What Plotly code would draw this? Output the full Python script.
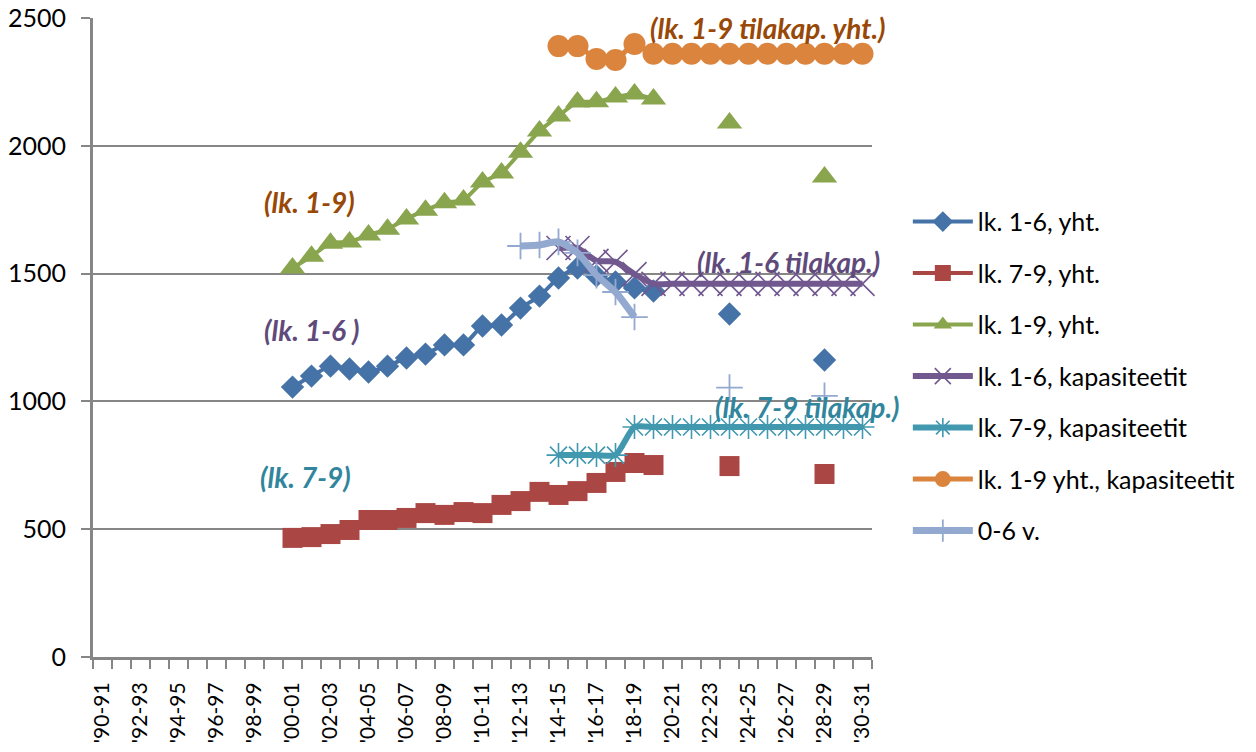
import plotly.graph_objects as go

# School years '90-91 ... '30-31
seasons = ["'%02d-%02d" % (y % 100, (y + 1) % 100) for y in range(1990, 2031)]

N = None
# Pupil counts, grades 1-6 (2000-01 ... 2019-20, forecasts 2023-24 and 2028-29)
lk16 = [N] * 10 + [1056, 1099, 1138, 1127, 1115, 1138, 1170, 1185, 1221, 1221,
                   1295, 1299, 1365, 1412, 1483, 1522, 1491, 1467, 1444, 1432] \
       + [N, N, N, 1342, N, N, N, N, 1162, N, N]
# Pupil counts, grades 7-9
lk79 = [N] * 10 + [466, 469, 481, 497, 536, 536, 544, 563, 556, 567,
                   563, 595, 610, 646, 634, 649, 681, 724, 759, 751] \
       + [N, N, N, 747, N, N, N, N, 716, N, N]
# Pupil counts, grades 1-9 total
lk19 = [N] * 10 + [1522, 1568, 1619, 1624, 1651, 1674, 1714, 1748, 1777, 1788,
                   1858, 1894, 1975, 2058, 2117, 2171, 2172, 2191, 2203, 2183] \
       + [N, N, N, 2089, N, N, N, N, 1878, N, N]
# Capacities, grades 1-6
kap16 = [N] * 24 + [1600, 1600, 1550, 1546, 1498] + [1460] * 12
# Capacities, grades 7-9
kap79 = [N] * 24 + [790, 790, 790, 790] + [900] * 13
# Capacities, grades 1-9 total
kap19 = [N] * 24 + [2390, 2390, 2340, 2336, 2398] + [2360] * 12
# Children aged 0-6
age06 = [N] * 22 + [1608, 1612, 1624, 1581, 1494, 1428, 1330] \
        + [N, N, N, N, 1054, N, N, N, N, 1022, N, N]

x = list(range(len(seasons)))

series = [
    ("lk. 1-6, yht.", lk16, "#4572A7", dict(symbol="diamond", size=18), 4),
    ("lk. 7-9, yht.", lk79, "#AA4643", dict(symbol="square", size=20), 4),
    ("lk. 1-9, yht.", lk19, "#89A54E", dict(symbol="triangle-up", size=22), 4),
    ("lk. 1-6, kapasiteetit", kap16, "#71588F",
     dict(symbol="x-thin-open", size=24, line=dict(width=1.6, color="#71588F")), 6),
    ("lk. 7-9, kapasiteetit", kap79, "#4198AF",
     dict(symbol="asterisk-open", size=20, line=dict(width=1.6, color="#4198AF")), 6),
    ("lk. 1-9 yht., kapasiteetit", kap19, "#DB843D", dict(symbol="circle", size=22), 5),
    ("0-6 v.", age06, "#93A9CF",
     dict(symbol="cross-thin-open", size=19, line=dict(width=1.8, color="#93A9CF")), 7),
]

fig = go.Figure()
for i, (name, vals, color, marker, lw) in enumerate(series):
    fig.add_trace(go.Scatter(
        x=x, y=vals, name=name, mode="lines+markers",
        line=dict(color=color, width=lw, shape="spline", smoothing=0.6),
        marker=dict(color=color, **marker),
        connectgaps=False, legendgroup=f"g{i}", cliponaxis=False,
    ))

notes = [
    ("(lk. 1-9 tilakap. yht.)", 35.0, 2461, "#984807"),
    ("(lk. 1-9)", 10.9, 1780, "#984807"),
    ("(lk. 1-6 )", 11.0, 1279, "#604A7B"),
    ("(lk. 1-6 tilakap.)", 36.1, 1545, "#604A7B"),
    ("(lk. 7-9 tilakap.)", 37.1, 978, "#31859C"),
    ("(lk. 7-9)", 10.7, 704, "#31859C"),
]
for text, nx, ny, color in notes:
    fig.add_annotation(x=nx, y=ny, text=f"<b><i>{text}</i></b>", showarrow=False,
                       font=dict(family="Lato", size=28, color=color))

axis_gray = "#868686"
fig.update_layout(
    width=1256, height=752,
    margin=dict(l=93, r=384, t=18, b=95, autoexpand=False),
    paper_bgcolor="white", plot_bgcolor="white",
    font=dict(family="Lato", color="black"),
    showlegend=True,
    legend=dict(x=1.046, y=0.717, xanchor="left", yanchor="top",
                font=dict(family="Lato", size=25, color="black"),
                tracegroupgap=16, itemwidth=60, bgcolor="rgba(0,0,0,0)"),
    xaxis=dict(
        range=[-0.5, len(seasons) - 0.5], automargin=False,
        tickmode="array", tickvals=x[::2], ticktext=seasons[::2],
        tickangle=-90, ticks="", ticklabelstandoff=14,
        tickfont=dict(family="Lato", size=21, color="black"),
        showgrid=False, zeroline=False,
        showline=True, linecolor=axis_gray, linewidth=3,
        minor=dict(tickmode="linear", tick0=-0.5, dtick=1, ticks="outside",
                   ticklen=9, tickwidth=2, tickcolor=axis_gray, showgrid=False),
    ),
    yaxis=dict(
        range=[0, 2500], tickmode="linear", tick0=0, dtick=500, automargin=False,
        tickfont=dict(family="Lato", size=25, color="black"),
        showgrid=True, gridcolor=axis_gray, gridwidth=2,
        zeroline=False, showline=True, linecolor=axis_gray, linewidth=3,
        ticks="outside", ticklen=9, tickwidth=2, tickcolor=axis_gray,
        ticklabelstandoff=10,
    ),
)

fig.write_html("out.html")
